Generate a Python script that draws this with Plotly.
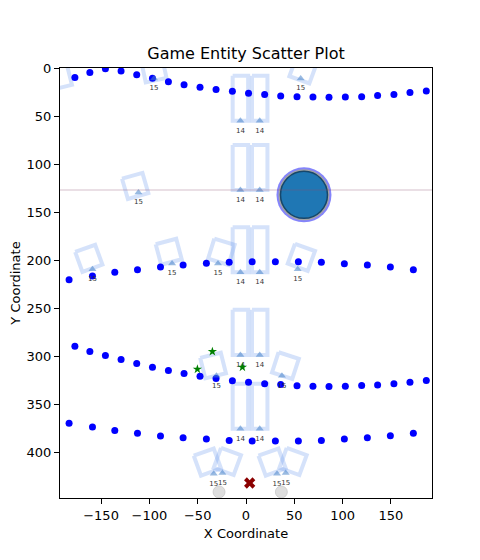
import math
import plotly.graph_objects as go

# ---------------- data ----------------
# wave rows of blue dots
row_a_x = [-192.6, -177.1, -161.6, -145.5, -129.3, -113.1, -96.8, -80.3, -64.1, -47.6, -31.0, -14.1,
           2.6, 19.3, 35.9, 52.8, 69.3, 85.9, 102.8, 119.7, 136.2, 153.1, 169.7, 186.6]
row1_y = [15.2, 10.0, 4.8, 0.7, 3.1, 6.9, 10.7, 14.2, 17.3, 20.1, 22.5, 24.2,
          26.3, 27.7, 29.1, 29.8, 30.1, 30.5, 30.1, 29.8, 28.7, 27.7, 25.6, 23.9]
row3_y = [284.3, 289.5, 294.9, 299.2, 303.3, 307.5, 311.3, 314.8, 317.9, 320.6, 323.1, 325.5,
          326.9, 328.6, 329.4, 330.7, 331.1, 331.4, 331.1, 330.4, 329.7, 328.6, 326.9, 325.2]
row_b_x = [-183.1, -158.9, -135.8, -112.3, -88.5, -65.1, -41.0, -17.4,
           6.4, 30.4, 54.2, 78.0, 101.8, 125.6, 149.4, 173.2]
row2_y = [220.3, 216.4, 212.6, 209.8, 207.0, 205.0, 203.2, 202.2,
          201.6, 201.6, 201.6, 202.2, 203.6, 205.0, 207.0, 209.8]
row4_y = [369.5, 373.6, 377.1, 379.9, 383.0, 384.7, 386.1, 387.5,
          388.2, 388.2, 388.2, 387.5, 386.1, 384.7, 382.6, 379.9]

# type-14 units (tall rectangle units)
unit14_x = [-5.8, 14.2, -5.8, 14.2, -5.8, 14.2, -5.8, 14.2, -5.8, 14.2, -5.8, 14.2]
unit14_y = [-18.0, -18.0, 55.0, 55.0, 127.0, 127.0, 212.6, 212.6, 298.6, 298.6, 375.4, 375.4]
unit14_label = ["14"] * 12

# type-15 units (small rotated squares)
unit15_x = [-193.0, -95.2, 56.6, -111.3, -158.9, -76.5, -29.0, 53.5, -30.6, 37.2, -33.4, -24.4, 32.1, 41.1]
unit15_y = [21.0, 11.0, 11.0, 129.5, 209.5, 203.3, 203.3, 209.5, 320.3, 320.3, 422.1, 421.4, 422.1, 421.4]
unit15_label = ["15"] * 14
square_cx = [-193.5, -95.3, 59.0, -114.7, -162.7, -80.0, -25.5, 57.3, -34.1, 40.8, -40.0, -19.3, 27.0, 48.7]
square_cy = [9.5, 2.0, 2.0, 122.7, 198.0, 191.2, 191.2, 197.0, 309.6, 309.6, 410.0, 409.4, 410.0, 409.4]
square_angle = [14, 12, -20, 16, 20, 15, -17, -20, 14, -18, 20, -20, 20, -20]

# other entities
hero_x = [60.0]
hero_y = [132.0]
star_x = [-34.8, -50.3, -3.7]
star_y = [295.0, 313.4, 311.3]
cross_x = [3.8]
cross_y = [431.8]
ghost_x = [-27.9, 36.6]
ghost_y = [441.1, 441.1]
boundary_y = [127.0]

x_ticks = [-150, -100, -50, 0, 50, 100, 150]
y_ticks = [0, 50, 100, 150, 200, 250, 300, 350, 400]

# ---------------- drawing ----------------
FONT = "DejaVu Sans"
RECT_COLOR = "rgba(100,149,237,0.27)"


def rot_poly(cx, cy, w, h, ang, anchor_bottom=False):
    t = math.radians(ang)
    c, s = math.cos(t), math.sin(t)
    if anchor_bottom:
        pts = [(-w / 2, -h), (w / 2, -h), (w / 2, 0), (-w / 2, 0), (-w / 2, -h)]
    else:
        pts = [(-w / 2, -h / 2), (w / 2, -h / 2), (w / 2, h / 2), (-w / 2, h / 2), (-w / 2, -h / 2)]
    xs, ys = [], []
    for dx, dy in pts:
        xs.append(cx + c * dx + s * dy)
        ys.append(cy - s * dx + c * dy)
    return xs, ys


fig = go.Figure()

# tall rectangles of the 14-units
rx, ry = [], []
for ux, uy in zip(unit14_x, unit14_y):
    xs, ys = rot_poly(ux, uy, 16, 47, 0, anchor_bottom=True)
    rx += xs + [None]
    ry += ys + [None]
# rotated squares of the 15-units
for cx, cy, a in zip(square_cx, square_cy, square_angle):
    xs, ys = rot_poly(cx, cy, 22, 22, a)
    rx += xs + [None]
    ry += ys + [None]
fig.add_trace(go.Scatter(x=rx, y=ry, mode="lines", line=dict(color=RECT_COLOR, width=4),
                         hoverinfo="skip", showlegend=False))

# blue dots
for xs, ys in [(row_a_x, row1_y), (row_b_x, row2_y), (row_a_x, row3_y), (row_b_x, row4_y)]:
    fig.add_trace(go.Scatter(x=xs, y=ys, mode="markers",
                             marker=dict(color="#0000ff", size=7, line=dict(width=0)),
                             showlegend=False))

# triangles
fig.add_trace(go.Scatter(x=unit14_x + unit15_x, y=unit14_y + unit15_y, mode="markers",
                         marker=dict(symbol="triangle-up", size=7, color="rgba(70,130,200,0.55)",
                                     line=dict(width=0)),
                         showlegend=False))
# labels (not clipped, like matplotlib text); invisible markers push the text down a bit
fig.add_trace(go.Scatter(x=unit14_x + unit15_x, y=unit14_y + unit15_y, mode="markers+text",
                         text=unit14_label + unit15_label, textposition="bottom center",
                         marker=dict(size=9, color="rgba(0,0,0,0)", line=dict(width=0)),
                         textfont=dict(family=FONT, size=7, color="#333333"),
                         cliponaxis=False, hoverinfo="skip", showlegend=False))

# hero circle (halo, ring, body)
fig.add_trace(go.Scatter(x=hero_x, y=hero_y, mode="markers",
                         marker=dict(size=55, color="rgba(110,110,250,0.85)", line=dict(width=0)),
                         showlegend=False))
fig.add_trace(go.Scatter(x=hero_x, y=hero_y, mode="markers",
                         marker=dict(size=51, color="#a3a3a3", line=dict(width=0)),
                         showlegend=False))
fig.add_trace(go.Scatter(x=hero_x, y=hero_y, mode="markers",
                         marker=dict(size=47, color="#1f77b4", line=dict(width=1.5, color="#17476b")),
                         showlegend=False))

# stars, cross, ghosts
fig.add_trace(go.Scatter(x=star_x, y=star_y, mode="markers",
                         marker=dict(symbol="star", size=7, color="green", line=dict(width=0)),
                         showlegend=False))
fig.add_trace(go.Scatter(x=cross_x, y=cross_y, mode="markers",
                         marker=dict(symbol="x", size=10, color="#8b0000", line=dict(width=0)),
                         showlegend=False))
fig.add_trace(go.Scatter(x=ghost_x, y=ghost_y, mode="markers",
                         marker=dict(size=12, color="rgba(200,200,200,0.6)",
                                     line=dict(width=1, color="rgba(190,190,190,0.6)")),
                         showlegend=False))

# boundary line
for by in boundary_y:
    fig.add_shape(type="line", xref="paper", x0=0, x1=1, yref="y", y0=by, y1=by,
                  line=dict(color="rgba(140,80,110,0.18)", width=2), layer="above")

axis_common = dict(showline=True, mirror=True, linecolor="black", linewidth=1,
                   ticks="outside", ticklen=5, tickwidth=1, tickcolor="black",
                   showgrid=False, zeroline=False, automargin=False,
                   tickfont=dict(family=FONT, size=13, color="black"))

# the page adds an 8px body margin, so the figure is 464x544 placed at (8, 8)
FIG_W, FIG_H = 464, 544
fig.update_layout(
    width=FIG_W, height=FIG_H,
    margin=dict(l=52, r=40, t=59.5, b=54, autoexpand=False),
    paper_bgcolor="white", plot_bgcolor="white",
    font=dict(family=FONT, color="black"),
    title=dict(text="Game Entity Scatter Plot", x=0.5, xref="paper", xanchor="center",
               y=1 - 45 / FIG_H, yref="container", yanchor="middle",
               font=dict(family=FONT, size=16, color="black")),
    xaxis=dict(range=[-192.5, 192.5], tickvals=x_ticks,
               title=dict(text="X Coordinate", standoff=7, font=dict(family=FONT, size=13)),
               **axis_common),
    yaxis=dict(range=[447.4, 0], tickvals=y_ticks,
               title=dict(text="Y Coordinate", standoff=8, font=dict(family=FONT, size=13)),
               **axis_common),
    showlegend=False,
)

fig.write_html("out.html")
